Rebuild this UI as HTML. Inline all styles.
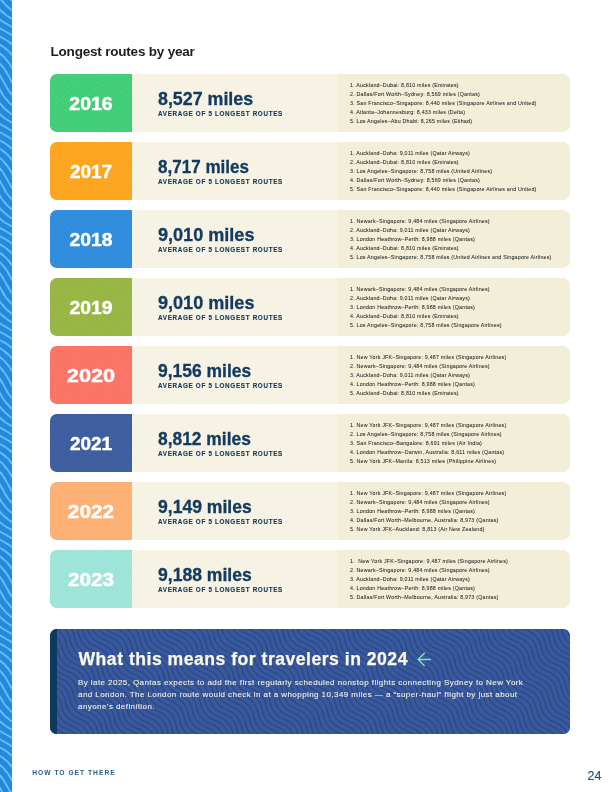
<!DOCTYPE html>
<html><head><meta charset="utf-8"><title>Longest routes by year</title>
<style>
*{margin:0;padding:0;box-sizing:border-box}
html,body{width:612px;height:792px;background:#fff;overflow:hidden}
body{position:relative;font-family:"Liberation Sans",Arial,sans-serif}
.pg{position:absolute;left:0;top:0;width:612px;height:792px;will-change:transform}
.abs{position:absolute;white-space:nowrap}
.stripe{position:absolute;left:0;top:0;width:12px;height:792px}
h1{position:absolute;left:50.5px;top:44.2px;font-size:13.5px;line-height:16px;font-weight:700;color:#1d1d1f;letter-spacing:-0.2px}
.card{position:absolute;left:50px;width:520px;height:58px;border-radius:7px;overflow:hidden;background:#f7f3e4}
.card .yr{position:absolute;left:0;top:0;width:82px;height:58px}
.card .yr svg{position:absolute;left:0;top:0}
.card .yr span{position:absolute;left:0;top:0.8px;width:82px;text-align:center;color:#fff;font-weight:700;font-size:18.4px;line-height:58px;-webkit-text-stroke:0.45px #fff}
.card .mid{position:absolute;left:82px;top:0;width:206px;height:58px;background:#f7f3e4}
.card .lst{position:absolute;left:288px;top:0;width:232px;height:58px;background:#f3eed8}
.miles{position:absolute;transform-origin:0 0;left:25.5px;top:15px;font-size:18px;line-height:20px;font-weight:700;color:#143b60;letter-spacing:0px;-webkit-text-stroke:0.3px #143b60}
.avg{position:absolute;left:26px;top:36.0px;font-size:6.3px;line-height:7px;font-weight:700;color:#143b60;letter-spacing:0.68px;-webkit-text-stroke:0.12px #143b60}
.lst ol{list-style:none;position:absolute;left:12px;top:6.5px;font-size:5.3px;line-height:9px;color:#222;letter-spacing:0.21px;-webkit-text-stroke:0.04px #222}
.lst li{white-space:nowrap}
.panel{position:absolute;left:50px;top:629px;width:520px;height:105px;border-radius:7px;overflow:hidden;background:#3a57a0}
.panel svg{position:absolute;left:0;top:0}
.panel .bar{position:absolute;left:0;top:0;width:7px;height:105px;background:#0d3b5d}
.panel h2{position:absolute;left:28.5px;top:19.4px;font-size:17.6px;line-height:22px;font-weight:700;color:#fbf8e8;letter-spacing:0.5px;white-space:nowrap;-webkit-text-stroke:0.25px #fbf8e8}
.panel .arr{position:absolute;left:367px;top:23px}
.panel p{position:absolute;left:28px;top:48.3px;font-size:8px;line-height:11.8px;color:#f5f1e2;letter-spacing:0.43px;white-space:nowrap;-webkit-text-stroke:0.1px #f5f1e2}
.foot{position:absolute;left:32.2px;top:768.5px;font-size:6.7px;line-height:8px;font-weight:700;color:#2b5b7c;letter-spacing:1.0px}
.pnum{position:absolute;left:587.5px;top:769px;font-size:12.5px;line-height:14px;color:#1d5474;-webkit-text-stroke:0.2px #1d5474}
</style></head><body><div class="pg">
<svg class="stripe" width="12" height="792" viewBox="0 0 12 792"><defs><pattern id="sp" width="71.6" height="7.4" patternUnits="userSpaceOnUse" patternTransform="rotate(45) translate(25.5 0)"><path d="M-71.6 -3.700 Q-53.700 -10.300 -35.800 -3.700 T0 -3.700 T35.800 -3.700 T71.6 -3.700 T107.400 -3.700 T143.2 -3.700 M-71.6 3.700 Q-53.700 -2.900 -35.800 3.700 T0 3.700 T35.800 3.700 T71.6 3.700 T107.400 3.700 T143.2 3.700 M-71.6 11.100 Q-53.700 4.500 -35.800 11.100 T0 11.100 T35.800 11.100 T71.6 11.100 T107.400 11.100 T143.2 11.100 M-71.6 18.500 Q-53.700 11.900 -35.800 18.500 T0 18.500 T35.800 18.500 T71.6 18.500 T107.400 18.500 T143.2 18.500" fill="none" stroke="#62d4ff" stroke-width="1.3"/></pattern></defs><rect width="12" height="792" fill="#2a86dc"/><rect width="12" height="792" fill="url(#sp)"/></svg>
<h1>Longest routes by year</h1>
<div class="card" style="top:74px"><div class="yr"><svg width="82" height="58" viewBox="0 0 82 58"><defs><pattern id="p2016" width="20" height="2.75" patternUnits="userSpaceOnUse" patternTransform="rotate(42) translate(0 0)"><path d="M-20 -1.375 Q-15.000 -4.375 -10.000 -1.375 T0 -1.375 T10.000 -1.375 T20 -1.375 T30.000 -1.375 T40 -1.375 M-20 1.375 Q-15.000 -1.625 -10.000 1.375 T0 1.375 T10.000 1.375 T20 1.375 T30.000 1.375 T40 1.375 M-20 4.125 Q-15.000 1.125 -10.000 4.125 T0 4.125 T10.000 4.125 T20 4.125 T30.000 4.125 T40 4.125 M-20 6.875 Q-15.000 3.875 -10.000 6.875 T0 6.875 T10.000 6.875 T20 6.875 T30.000 6.875 T40 6.875" fill="none" stroke="#b0d663" stroke-width="0.6"/></pattern></defs><rect width="82" height="58" fill="#26cc7f"/><rect width="82" height="58" fill="url(#p2016)"/></svg><span style="transform:scaleX(1.06)">2016</span></div><div class="mid"><div class="miles" style="transform:scaleX(0.99)">8,527 miles</div><div class="avg">AVERAGE OF 5 LONGEST ROUTES</div></div><div class="lst"><ol><li>1. Auckland–Dubai: 8,810 miles (Emirates)</li><li>2. Dallas/Fort Worth–Sydney: 8,569 miles (Qantas)</li><li>3. San Francisco–Singapore: 8,440 miles (Singapore Airlines and United)</li><li>4. Atlanta–Johannesburg: 8,433 miles (Delta)</li><li>5. Los Angeles–Abu Dhabi: 8,265 miles (Etihad)</li></ol></div></div>
<div class="card" style="top:142px"><div class="yr"><svg width="82" height="58" viewBox="0 0 82 58"><defs><pattern id="p2017" width="20" height="2.75" patternUnits="userSpaceOnUse" patternTransform="rotate(42) translate(0 0)"><path d="M-20 -1.375 Q-15.000 -4.375 -10.000 -1.375 T0 -1.375 T10.000 -1.375 T20 -1.375 T30.000 -1.375 T40 -1.375 M-20 1.375 Q-15.000 -1.625 -10.000 1.375 T0 1.375 T10.000 1.375 T20 1.375 T30.000 1.375 T40 1.375 M-20 4.125 Q-15.000 1.125 -10.000 4.125 T0 4.125 T10.000 4.125 T20 4.125 T30.000 4.125 T40 4.125 M-20 6.875 Q-15.000 3.875 -10.000 6.875 T0 6.875 T10.000 6.875 T20 6.875 T30.000 6.875 T40 6.875" fill="none" stroke="#fdc24a" stroke-width="0.6"/></pattern></defs><rect width="82" height="58" fill="#fd9e16"/><rect width="82" height="58" fill="url(#p2017)"/></svg><span style="transform:scaleX(1.03)">2017</span></div><div class="mid"><div class="miles" style="transform:scaleX(0.947)">8,717 miles</div><div class="avg">AVERAGE OF 5 LONGEST ROUTES</div></div><div class="lst"><ol><li>1. Auckland–Doha: 9,011 miles (Qatar Airways)</li><li>2. Auckland–Dubai: 8,810 miles (Emirates)</li><li>3. Los Angeles–Singapore: 8,758 miles (United Airlines)</li><li>4. Dallas/Fort Worth–Sydney: 8,569 miles (Qantas)</li><li>5. San Francisco–Singapore: 8,440 miles (Singapore Airlines and United)</li></ol></div></div>
<div class="card" style="top:210px"><div class="yr"><svg width="82" height="58" viewBox="0 0 82 58"><defs><pattern id="p2018" width="20" height="2.75" patternUnits="userSpaceOnUse" patternTransform="rotate(42) translate(0 0)"><path d="M-20 -1.375 Q-15.000 -4.375 -10.000 -1.375 T0 -1.375 T10.000 -1.375 T20 -1.375 T30.000 -1.375 T40 -1.375 M-20 1.375 Q-15.000 -1.625 -10.000 1.375 T0 1.375 T10.000 1.375 T20 1.375 T30.000 1.375 T40 1.375 M-20 4.125 Q-15.000 1.125 -10.000 4.125 T0 4.125 T10.000 4.125 T20 4.125 T30.000 4.125 T40 4.125 M-20 6.875 Q-15.000 3.875 -10.000 6.875 T0 6.875 T10.000 6.875 T20 6.875 T30.000 6.875 T40 6.875" fill="none" stroke="#52a6e9" stroke-width="0.6"/></pattern></defs><rect width="82" height="58" fill="#2886da"/><rect width="82" height="58" fill="url(#p2018)"/></svg><span style="transform:scaleX(1.05)">2018</span></div><div class="mid"><div class="miles" style="transform:scaleX(1.004)">9,010 miles</div><div class="avg">AVERAGE OF 5 LONGEST ROUTES</div></div><div class="lst"><ol><li>1. Newark–Singapore: 9,484 miles (Singapore Airlines)</li><li>2. Auckland–Doha: 9,011 miles (Qatar Airways)</li><li>3. London Heathrow–Perth: 8,988 miles (Qantas)</li><li>4. Auckland–Dubai: 8,810 miles (Emirates)</li><li>5. Los Angeles–Singapore: 8,758 miles (United Airlines and Singapore Airlines)</li></ol></div></div>
<div class="card" style="top:278px"><div class="yr"><svg width="82" height="58" viewBox="0 0 82 58"><defs><pattern id="p2019" width="20" height="2.75" patternUnits="userSpaceOnUse" patternTransform="rotate(42) translate(0 0)"><path d="M-20 -1.375 Q-15.000 -4.375 -10.000 -1.375 T0 -1.375 T10.000 -1.375 T20 -1.375 T30.000 -1.375 T40 -1.375 M-20 1.375 Q-15.000 -1.625 -10.000 1.375 T0 1.375 T10.000 1.375 T20 1.375 T30.000 1.375 T40 1.375 M-20 4.125 Q-15.000 1.125 -10.000 4.125 T0 4.125 T10.000 4.125 T20 4.125 T30.000 4.125 T40 4.125 M-20 6.875 Q-15.000 3.875 -10.000 6.875 T0 6.875 T10.000 6.875 T20 6.875 T30.000 6.875 T40 6.875" fill="none" stroke="#cfc24b" stroke-width="0.6"/></pattern></defs><rect width="82" height="58" fill="#8ab343"/><rect width="82" height="58" fill="url(#p2019)"/></svg><span style="transform:scaleX(1.05)">2019</span></div><div class="mid"><div class="miles" style="transform:scaleX(1.004)">9,010 miles</div><div class="avg">AVERAGE OF 5 LONGEST ROUTES</div></div><div class="lst"><ol><li>1. Newark–Singapore: 9,484 miles (Singapore Airlines)</li><li>2. Auckland–Doha: 9,011 miles (Qatar Airways)</li><li>3. London Heathrow–Perth: 8,988 miles (Qantas)</li><li>4. Auckland–Dubai: 8,810 miles (Emirates)</li><li>5. Los Angeles–Singapore: 8,758 miles (Singapore Airlines)</li></ol></div></div>
<div class="card" style="top:346px"><div class="yr"><svg width="82" height="58" viewBox="0 0 82 58"><defs><pattern id="p2020" width="20" height="2.75" patternUnits="userSpaceOnUse" patternTransform="rotate(42) translate(0 0)"><path d="M-20 -1.375 Q-15.000 -4.375 -10.000 -1.375 T0 -1.375 T10.000 -1.375 T20 -1.375 T30.000 -1.375 T40 -1.375 M-20 1.375 Q-15.000 -1.625 -10.000 1.375 T0 1.375 T10.000 1.375 T20 1.375 T30.000 1.375 T40 1.375 M-20 4.125 Q-15.000 1.125 -10.000 4.125 T0 4.125 T10.000 4.125 T20 4.125 T30.000 4.125 T40 4.125 M-20 6.875 Q-15.000 3.875 -10.000 6.875 T0 6.875 T10.000 6.875 T20 6.875 T30.000 6.875 T40 6.875" fill="none" stroke="#fc9a6b" stroke-width="0.6"/></pattern></defs><rect width="82" height="58" fill="#fa6b65"/><rect width="82" height="58" fill="url(#p2020)"/></svg><span style="transform:scaleX(1.18)">2020</span></div><div class="mid"><div class="miles" style="transform:scaleX(0.97)">9,156 miles</div><div class="avg">AVERAGE OF 5 LONGEST ROUTES</div></div><div class="lst"><ol><li>1. New York JFK–Singapore: 9,487 miles (Singapore Airlines)</li><li>2. Newark–Singapore: 9,484 miles (Singapore Airlines)</li><li>3. Auckland–Doha: 9,011 miles (Qatar Airways)</li><li>4. London Heathrow–Perth: 8,988 miles (Qantas)</li><li>5. Auckland–Dubai: 8,810 miles (Emirates)</li></ol></div></div>
<div class="card" style="top:414px"><div class="yr"><svg width="82" height="58" viewBox="0 0 82 58"><defs><pattern id="p2021" width="20" height="2.75" patternUnits="userSpaceOnUse" patternTransform="rotate(42) translate(0 0)"><path d="M-20 -1.375 Q-15.000 -4.375 -10.000 -1.375 T0 -1.375 T10.000 -1.375 T20 -1.375 T30.000 -1.375 T40 -1.375 M-20 1.375 Q-15.000 -1.625 -10.000 1.375 T0 1.375 T10.000 1.375 T20 1.375 T30.000 1.375 T40 1.375 M-20 4.125 Q-15.000 1.125 -10.000 4.125 T0 4.125 T10.000 4.125 T20 4.125 T30.000 4.125 T40 4.125 M-20 6.875 Q-15.000 3.875 -10.000 6.875 T0 6.875 T10.000 6.875 T20 6.875 T30.000 6.875 T40 6.875" fill="none" stroke="#5573b0" stroke-width="0.6"/></pattern></defs><rect width="82" height="58" fill="#38599b"/><rect width="82" height="58" fill="url(#p2021)"/></svg><span style="transform:scaleX(1.03)">2021</span></div><div class="mid"><div class="miles" style="transform:scaleX(0.966)">8,812 miles</div><div class="avg">AVERAGE OF 5 LONGEST ROUTES</div></div><div class="lst"><ol><li>1. New York JFK–Singapore: 9,487 miles (Singapore Airlines)</li><li>2. Los Angeles–Singapore: 8,758 miles (Singapore Airlines)</li><li>3. San Francisco–Bangalore: 8,691 miles (Air India)</li><li>4. London Heathrow–Darwin, Australia: 8,611 miles (Qantas)</li><li>5. New York JFK–Manila: 8,513 miles (Philippine Airlines)</li></ol></div></div>
<div class="card" style="top:482px"><div class="yr"><svg width="82" height="58" viewBox="0 0 82 58"><defs><pattern id="p2022" width="20" height="2.75" patternUnits="userSpaceOnUse" patternTransform="rotate(42) translate(0 0)"><path d="M-20 -1.375 Q-15.000 -4.375 -10.000 -1.375 T0 -1.375 T10.000 -1.375 T20 -1.375 T30.000 -1.375 T40 -1.375 M-20 1.375 Q-15.000 -1.625 -10.000 1.375 T0 1.375 T10.000 1.375 T20 1.375 T30.000 1.375 T40 1.375 M-20 4.125 Q-15.000 1.125 -10.000 4.125 T0 4.125 T10.000 4.125 T20 4.125 T30.000 4.125 T40 4.125 M-20 6.875 Q-15.000 3.875 -10.000 6.875 T0 6.875 T10.000 6.875 T20 6.875 T30.000 6.875 T40 6.875" fill="none" stroke="#fdc27a" stroke-width="0.6"/></pattern></defs><rect width="82" height="58" fill="#fdac73"/><rect width="82" height="58" fill="url(#p2022)"/></svg><span style="transform:scaleX(1.13)">2022</span></div><div class="mid"><div class="miles" style="transform:scaleX(0.976)">9,149 miles</div><div class="avg">AVERAGE OF 5 LONGEST ROUTES</div></div><div class="lst"><ol><li>1. New York JFK–Singapore: 9,487 miles (Singapore Airlines)</li><li>2. Newark–Singapore: 9,484 miles (Singapore Airlines)</li><li>3. London Heathrow–Perth: 8,988 miles (Qantas)</li><li>4. Dallas/Fort Worth–Melbourne, Australia: 8,973 (Qantas)</li><li>5. New York JFK–Auckland: 8,813 (Air New Zealand)</li></ol></div></div>
<div class="card" style="top:550px"><div class="yr"><svg width="82" height="58" viewBox="0 0 82 58"><defs><pattern id="p2023" width="20" height="2.75" patternUnits="userSpaceOnUse" patternTransform="rotate(42) translate(0 0)"><path d="M-20 -1.375 Q-15.000 -4.375 -10.000 -1.375 T0 -1.375 T10.000 -1.375 T20 -1.375 T30.000 -1.375 T40 -1.375 M-20 1.375 Q-15.000 -1.625 -10.000 1.375 T0 1.375 T10.000 1.375 T20 1.375 T30.000 1.375 T40 1.375 M-20 4.125 Q-15.000 1.125 -10.000 4.125 T0 4.125 T10.000 4.125 T20 4.125 T30.000 4.125 T40 4.125 M-20 6.875 Q-15.000 3.875 -10.000 6.875 T0 6.875 T10.000 6.875 T20 6.875 T30.000 6.875 T40 6.875" fill="none" stroke="#b6ece2" stroke-width="0.6"/></pattern></defs><rect width="82" height="58" fill="#98e3d6"/><rect width="82" height="58" fill="url(#p2023)"/></svg><span style="transform:scaleX(1.125)">2023</span></div><div class="mid"><div class="miles" style="transform:scaleX(0.976)">9,188 miles</div><div class="avg">AVERAGE OF 5 LONGEST ROUTES</div></div><div class="lst"><ol><li>1.&nbsp; New York JFK–Singapore: 9,487 miles (Singapore Airlines)</li><li>2. Newark–Singapore: 9,484 miles (Singapore Airlines)</li><li>3. Auckland–Doha: 9,011 miles (Qatar Airways)</li><li>4. London Heathrow–Perth: 8,988 miles (Qantas)</li><li>5. Dallas/Fort Worth–Melbourne, Australia: 8,973 (Qantas)</li></ol></div></div>
<div class="panel"><svg width="520" height="105" viewBox="0 0 520 105"><defs><pattern id="pp" width="44" height="5.4" patternUnits="userSpaceOnUse" patternTransform="rotate(50) translate(0 0)"><path d="M-44 -2.700 Q-33.000 -9.100 -22.000 -2.700 T0 -2.700 T22.000 -2.700 T44 -2.700 T66.000 -2.700 T88 -2.700 M-44 2.700 Q-33.000 -3.700 -22.000 2.700 T0 2.700 T22.000 2.700 T44 2.700 T66.000 2.700 T88 2.700 M-44 8.100 Q-33.000 1.700 -22.000 8.100 T0 8.100 T22.000 8.100 T44 8.100 T66.000 8.100 T88 8.100 M-44 13.500 Q-33.000 7.100 -22.000 13.500 T0 13.500 T22.000 13.500 T44 13.500 T66.000 13.500 T88 13.500" fill="none" stroke="#1e4874" stroke-width="0.95"/></pattern></defs><rect width="520" height="105" fill="#3a57a0"/><rect width="520" height="105" fill="url(#pp)"/></svg><div class="bar"></div><h2>What this means for travelers in 2024</h2><svg class="arr" width="14" height="14" viewBox="0 0 14 14"><path d="M1.1 7.5 H13.6 M7.4 1.3 L1.1 7.5 L7.4 13.7" fill="none" stroke="#7de8c0" stroke-width="1.35" stroke-linecap="round" stroke-linejoin="round"/></svg><p>By late 2025, Qantas expects to add the first regularly scheduled nonstop flights connecting Sydney to New York<br>and London. The London route would check in at a whopping 10,349 miles — a “super-haul” flight by just about<br>anyone’s definition.</p></div>
<div class="foot">HOW TO GET THERE</div>
<div class="pnum">24</div>
</div></body></html>
